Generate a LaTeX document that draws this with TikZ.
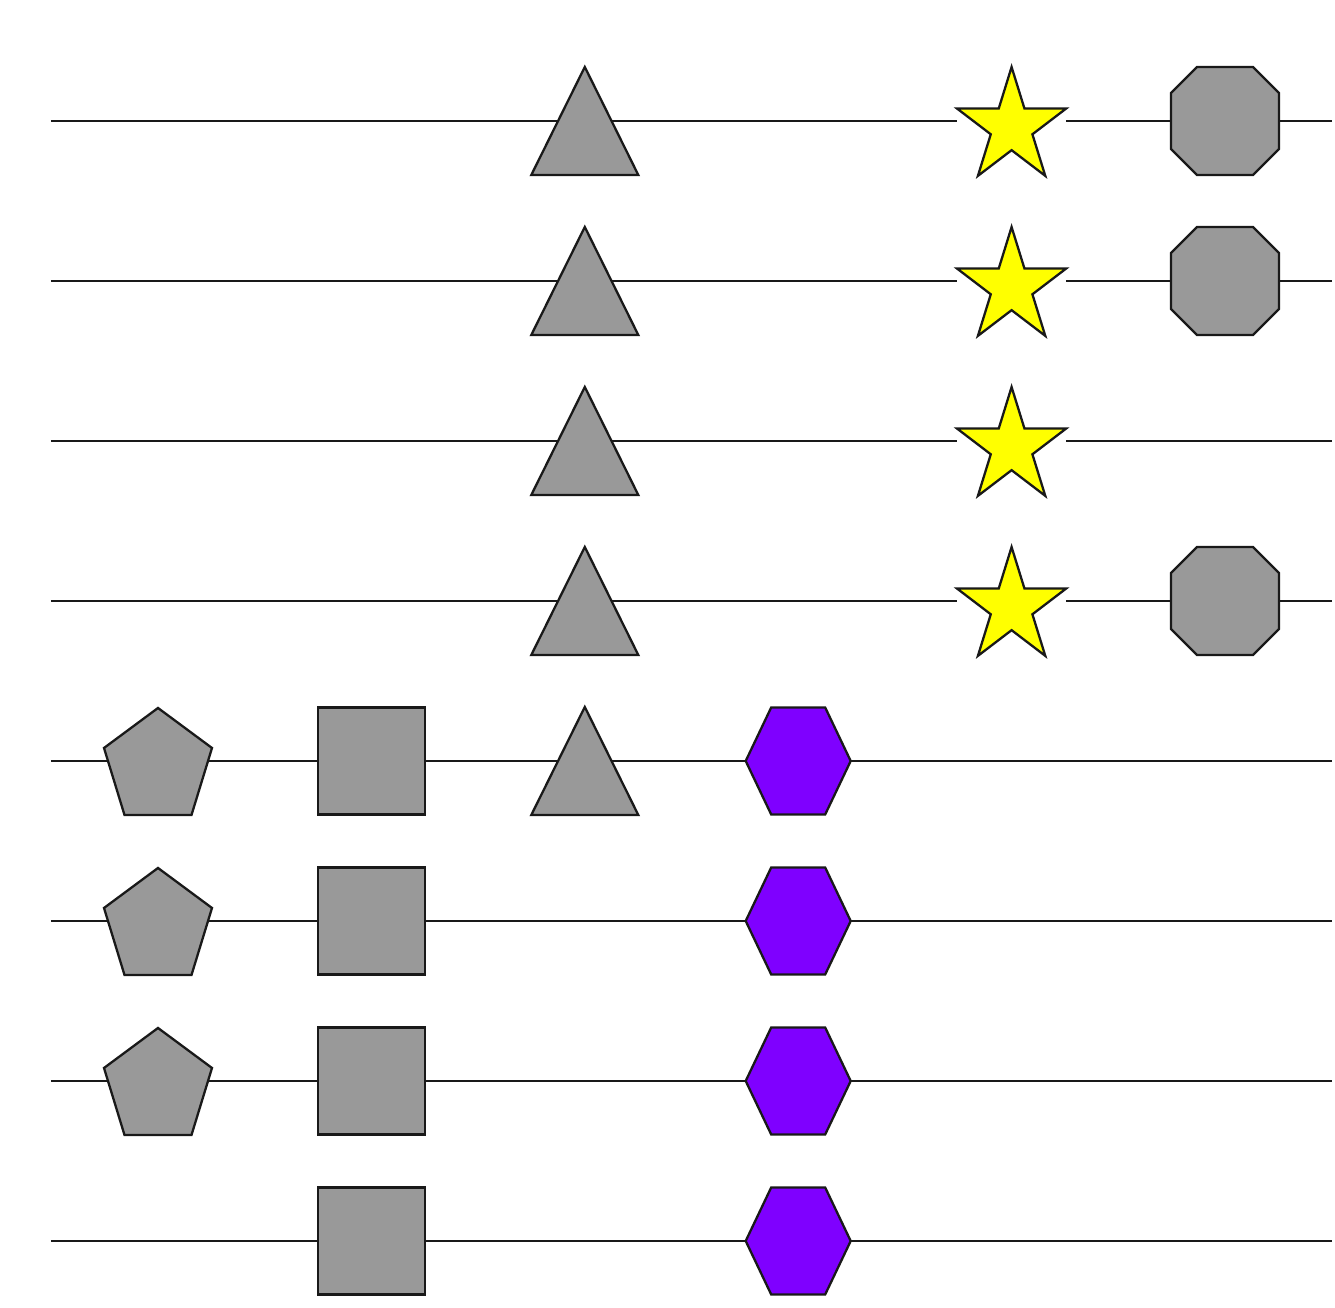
\documentclass[tikz,border=0pt]{standalone}

\definecolor{symgrayfill}{RGB}{153,153,153}
\definecolor{symyellowfill}{RGB}{255,255,0}
\definecolor{sympurplefill}{RGB}{127,0,255}
\definecolor{symdraw}{RGB}{25,25,25}

\begin{document}
\begin{tikzpicture}[
  x=1cm,
  y=1cm,
  rowline/.style={draw=symdraw, line width=0.6pt},
  symbol/.style={draw=symdraw, line width=0.65pt, line join=miter},
  symtri/.pic={\draw[symbol, fill=symgrayfill] (0,0.54) -- (0.535,-0.54) -- (-0.535,-0.54) -- cycle;},
  symsq/.pic={\draw[symbol, fill=symgrayfill] (-0.535,-0.535) rectangle (0.535,0.535);},
  sympent/.pic={\draw[symbol, fill=symgrayfill] (0,0.53) -- (0.54,0.13) -- (0.335,-0.54) -- (-0.335,-0.54) -- (-0.54,0.13) -- cycle;},
  symhex/.pic={\draw[symbol, fill=sympurplefill] (-0.525,0) -- (-0.27,0.535) -- (0.27,0.535) -- (0.525,0) -- (0.27,-0.535) -- (-0.27,-0.535) -- cycle;},
  symoct/.pic={\draw[symbol, fill=symgrayfill] (-0.54,-0.28) -- (-0.54,0.28) -- (-0.28,0.54) -- (0.28,0.54) -- (0.54,0.28) -- (0.54,-0.28) -- (0.28,-0.54) -- (-0.28,-0.54) -- cycle;},
  symstar/.pic={\draw[symbol, fill=symyellowfill, shift={(0,-0.062)}, yscale=1.05]
    (90:0.573) -- (126:0.219) -- (162:0.573) -- (198:0.219) -- (234:0.573) -- (270:0.219)
    -- (306:0.573) -- (342:0.219) -- (18:0.573) -- (54:0.219) -- cycle;}
]

  \path[use as bounding box] (0,0) rectangle (13.35,13.08);

  % Row ends and the six symbol columns of every row.
  \foreach \r in {1,...,8} {
    \coordinate (r\r-start) at (0.51,{11.87-1.6*(\r-1)});
    \coordinate (r\r-end) at (13.32,{11.87-1.6*(\r-1)});
    \foreach \c in {1,...,6}
      \coordinate (r\r-c\c) at ({1.58+2.134*(\c-1)},{11.87-1.6*(\r-1)});
  }

  % Lines; the star rows leave the star's box free.
  \foreach \r in {1,...,4} {
    \draw[rowline] (r\r-start) -- ([xshift=-0.545cm]r\r-c5);
    \draw[rowline] ([xshift=0.545cm]r\r-c5) -- (r\r-end);
  }
  \foreach \r in {5,...,8}
    \draw[rowline] (r\r-start) -- (r\r-end);

  % Symbols on top of the lines.
  \foreach \r in {5,6,7} \pic at (r\r-c1) {sympent};
  \foreach \r in {5,...,8} \pic at (r\r-c2) {symsq};
  \foreach \r in {1,...,5} \pic at (r\r-c3) {symtri};
  \foreach \r in {5,...,8} \pic at (r\r-c4) {symhex};
  \foreach \r in {1,...,4} \pic at (r\r-c5) {symstar};
  \foreach \r in {1,2,4} \pic at (r\r-c6) {symoct};

\end{tikzpicture}
\end{document}
